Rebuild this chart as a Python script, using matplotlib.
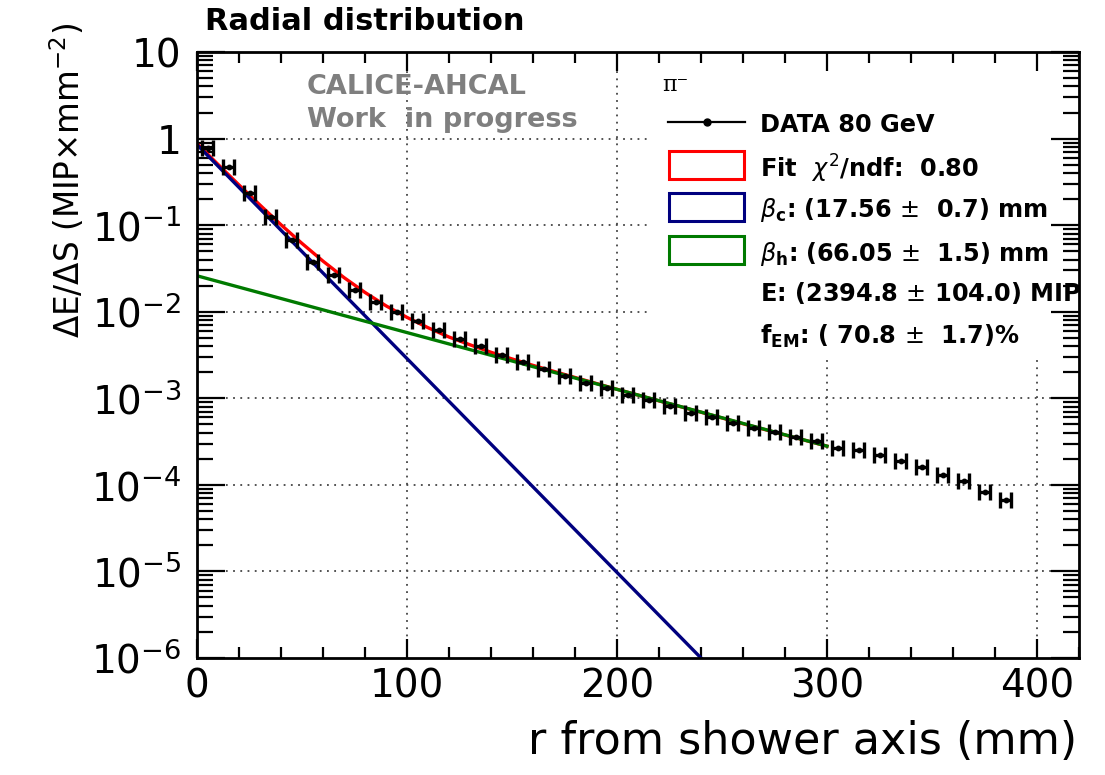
import matplotlib
matplotlib.use("Agg")
import matplotlib.pyplot as plt
from matplotlib.patches import Rectangle
from matplotlib.lines import Line2D
from matplotlib.ticker import FixedLocator, MultipleLocator, LogLocator, NullFormatter

plt.rcParams['font.family'] = ['DejaVu Sans']
plt.rcParams['mathtext.fontset'] = 'dejavusans'

# ---------------- data ----------------
r_data = [5, 15, 25, 35, 45, 55, 65, 75, 85, 95, 105, 115, 125, 135, 145, 155,
          165, 175, 185, 195, 205, 215, 225, 235, 245, 255, 265, 275, 285, 295,
          305, 315, 325, 335, 345, 355, 365, 375, 385]
e_data = [0.77, 0.47, 0.237, 0.123, 0.0675, 0.038, 0.0266, 0.0179, 0.0131, 0.0100,
          0.0079, 0.0061, 0.0048, 0.0040, 0.0032, 0.00265, 0.00217, 0.00182,
          0.00149, 0.00131, 0.00109, 0.00096, 0.00082, 0.00068, 0.00060, 0.00052,
          0.00045, 0.00041, 0.00036, 0.00032, 0.00027, 0.00025, 0.00022, 0.00019,
          0.00016, 0.00013, 0.00011, 0.000082, 0.000066]
r_halfbin = 2.5

# fit curves
r_fit = [0, 10, 20, 30, 40, 50, 60, 70, 80, 90, 100, 110, 120, 130, 140, 150,
         160, 180, 200, 220, 240, 260, 300]
e_fit = [0.876, 0.503, 0.291, 0.1705, 0.101, 0.0615, 0.0384, 0.0248, 0.0167,
         0.0117, 0.0086, 0.00654, 0.0051, 0.00415, 0.0034, 0.00285, 0.0024,
         0.00174, 0.00127, 0.000933, 0.00069, 0.000508, 0.00028]
r_core = [0, 240]
e_core = [0.85, 1.0e-6]
r_halo = [0, 300]
e_halo = [0.026, 0.00028]

x_ticks = [0, 100, 200, 300, 400]
y_ticks = [1e-6, 1e-5, 1e-4, 1e-3, 1e-2, 1e-1, 1, 10]
y_ticklabels = ['$10^{-6}$', '$10^{-5}$', '$10^{-4}$', '$10^{-3}$', '$10^{-2}$',
                '$10^{-1}$', '1', '10']

legend_labels = ['DATA 80 GeV',
                 r'Fit  $\chi^{2}$/ndf:  0.80',
                 r'$\beta_{\mathbf{c}}$: (17.56 $\pm$  0.7) mm',
                 r'$\beta_{\mathbf{h}}$: (66.05 $\pm$  1.5) mm',
                 r'E: (2394.8 $\pm$ 104.0) MIP',
                 r'f$_{\mathbf{EM}}$: ( 70.8 $\pm$  1.7)%']

C_FIT = '#ff0000'
C_CORE = '#00007f'
C_HALO = '#007a00'

W, H = 1105, 775
def fx(px):
    return px / W
def fy(py):
    return 1 - py / H

fig = plt.figure(figsize=(W / 100, H / 100), dpi=100)
x0, x1, y0, y1 = 197, 1079, 52, 658
ax = fig.add_axes([fx(x0), fy(y1), fx(x1) - fx(x0), fy(y0) - fy(y1)])

ax.set_yscale('log')
ax.set_xlim(0, 420)
ax.set_ylim(1e-6, 10)

# manual grid (so the legend background can hide it, but not the ticks)
for xv in x_ticks[1:]:
    ax.axvline(xv, color='#444444', lw=1.3, ls=(0, (1, 3)), zorder=0.6)
for yv in y_ticks[1:-1]:
    ax.axhline(yv, color='#444444', lw=1.3, ls=(0, (1, 3)), zorder=0.6)

# curves
ax.plot(r_fit, e_fit, color=C_FIT, lw=2.4, zorder=3)
ax.plot(r_core, e_core, color=C_CORE, lw=2.4, zorder=3.1)
ax.plot(r_halo, e_halo, color=C_HALO, lw=2.4, zorder=3.2)

# data
ax.errorbar(r_data, e_data, xerr=r_halfbin, fmt='o', ms=3.2, color='k',
            elinewidth=2.4, capsize=5.5, capthick=2.4, zorder=4)

# ticks
ax.xaxis.set_major_locator(FixedLocator(x_ticks))
ax.xaxis.set_minor_locator(MultipleLocator(20))
ax.yaxis.set_major_locator(FixedLocator(y_ticks))
ax.yaxis.set_minor_locator(LogLocator(base=10, subs=range(2, 10), numticks=20))
ax.yaxis.set_minor_formatter(NullFormatter())
ax.set_xticklabels([str(v) for v in x_ticks])
ax.set_yticklabels(y_ticklabels)
ax.tick_params(which='both', direction='in', top=True, right=True, width=1.6,
               labelsize=28)
ax.xaxis.set_tick_params(which='major', length=14, pad=7)
ax.xaxis.set_tick_params(which='minor', length=8)
ax.yaxis.set_tick_params(which='major', length=20, pad=11)
ax.yaxis.set_tick_params(which='minor', length=11.5)
for sp in ax.spines.values():
    sp.set_linewidth(2)
    sp.set_zorder(5)

# axis titles
fig.text(fx(1077), fy(742), 'r from shower axis (mm)', ha='right', va='center',
         fontsize=32)
fig.text(fx(68), fy(180), r'$\Delta$E/$\Delta$S (MIP$\times$mm$^{-2}$)',
         ha='center', va='center', rotation=90, fontsize=23.5)

# title and stamp
fig.text(fx(205), fy(22), 'Radial distribution', ha='left', va='center',
         fontsize=22, fontweight='bold')
fig.text(fx(307), fy(87), 'CALICE-AHCAL', ha='left', va='center',
         fontsize=19.5, fontweight='bold', color='#7f7f7f')
fig.text(fx(307), fy(120), 'Work  in progress', ha='left', va='center',
         fontsize=19.5, fontweight='bold', color='#7f7f7f')

# legend (drawn manually in figure pixel positions)
ax.add_patch(Rectangle((fx(652), fy(357)), fx(x1) - fx(652), fy(y0 + 2) - fy(357),
                       transform=fig.transFigure, facecolor='white',
                       edgecolor='none', zorder=1))
ax.text(fx(662), fy(85), 'π⁻', transform=fig.transFigure, ha='left',
        va='center', fontsize=16, family='DejaVu Serif', zorder=6)
leg_y = [122, 165, 207, 250, 290, 333]
ax.add_line(Line2D([fx(668), fx(745)], [fy(leg_y[0])] * 2, color='k', lw=1.6,
                   transform=fig.transFigure, zorder=6, clip_on=False))
ax.add_line(Line2D([fx(707)], [fy(leg_y[0])], color='k', marker='o', ms=5,
                   transform=fig.transFigure, zorder=6, clip_on=False))
for yy, col in zip(leg_y[1:4], [C_FIT, C_CORE, C_HALO]):
    ax.add_patch(Rectangle((fx(669), fy(yy + 14)), fx(744) - fx(669),
                           fy(yy - 14) - fy(yy + 14), transform=fig.transFigure,
                           facecolor='white', edgecolor=col, lw=2.2, zorder=6,
                           clip_on=False))
for yy, lab in zip(leg_y, legend_labels):
    ax.text(fx(760), fy(yy), lab, transform=fig.transFigure, ha='left',
            va='center_baseline', fontsize=17.3, fontweight='bold', zorder=6)

fig.savefig('out.png', dpi=100)
